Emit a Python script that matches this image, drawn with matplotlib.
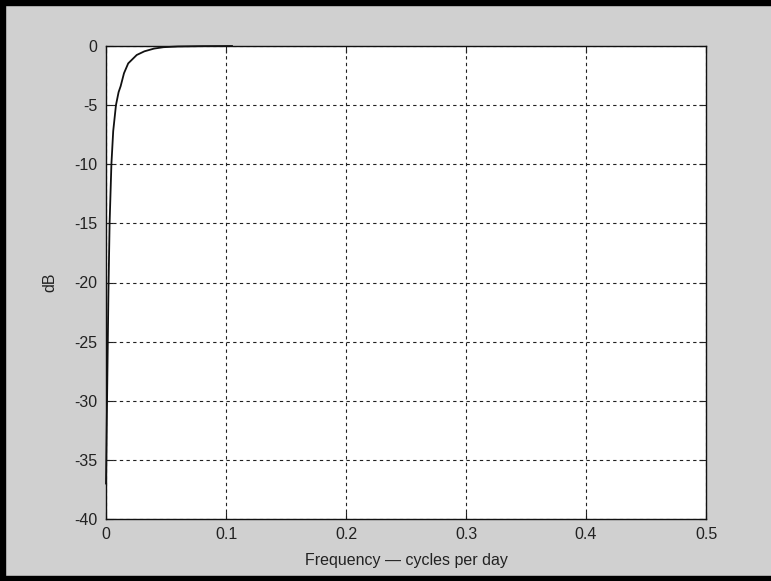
import matplotlib
matplotlib.use('Agg')
import matplotlib.pyplot as plt
from matplotlib.patches import Rectangle

# --- 颜色 ---
BG = '#d0d0d0'
FRAME = '#000000'

# --- 数据 ---
freq = [0.0, 0.0005, 0.001, 0.0015, 0.002, 0.003, 0.0045, 0.006, 0.0083,
        0.0105, 0.0122, 0.015, 0.0185, 0.0256, 0.032, 0.04, 0.048,
        0.06, 0.08, 0.105]
db = [-37.0, -33.0, -29.0, -25.0, -21.0, -15.0, -10.0, -7.2, -5.0,
      -3.9, -3.4, -2.3, -1.47, -0.76, -0.45, -0.22, -0.1,
      -0.04, -0.01, 0.0]

xticks = [0, 0.1, 0.2, 0.3, 0.4, 0.5]
xticklabels = ['0', '0.1', '0.2', '0.3', '0.4', '0.5']
yticks = [0, -5, -10, -15, -20, -25, -30, -35, -40]

plt.rcParams['font.family'] = ['Liberation Sans', 'DejaVu Sans']

W, H = 771, 581
fig = plt.figure(figsize=(W / 100, H / 100), dpi=100)
fig.patch.set_facecolor(BG)

# 黑色外框 (上, 左, 下)
fig.add_artist(Rectangle((0, 1 - 5 / H), 1, 5 / H, transform=fig.transFigure,
                         color=FRAME, zorder=10))
fig.add_artist(Rectangle((0, 0), 5 / W, 1, transform=fig.transFigure,
                         color=FRAME, zorder=10))
fig.add_artist(Rectangle((0, 0), 1, 5 / H, transform=fig.transFigure,
                         color=FRAME, zorder=10))

ax = fig.add_axes([106 / W, 1 - 519 / H, 600 / W, 473 / H])
ax.set_facecolor('white')
ax.plot(freq, db, color='#111111', linewidth=1.3, clip_on=False, zorder=5)

ax.set_xlim(0, 0.5)
ax.set_ylim(-40, 0)
ax.set_xticks(xticks)
ax.set_xticklabels(xticklabels)
ax.set_yticks(yticks)
ax.set_yticklabels([str(v) for v in yticks])

ax.grid(True, color='#222222', linestyle=(0, (3, 3)), linewidth=0.8)
ax.tick_params(direction='in', length=5, width=0.8, labelsize=11.5,
               colors='#222222', top=True, right=True, pad=6)
for sp in ax.spines.values():
    sp.set_color('#111111')
    sp.set_linewidth(1.0)

ax.set_xlabel('Frequency \u2014 cycles per day', fontsize=11.5, color='#222222',
              labelpad=8)
ax.set_ylabel('dB', fontsize=11.5, color='#222222', labelpad=12)

plt.savefig('out.png', dpi=100, facecolor=BG)
plt.close()
